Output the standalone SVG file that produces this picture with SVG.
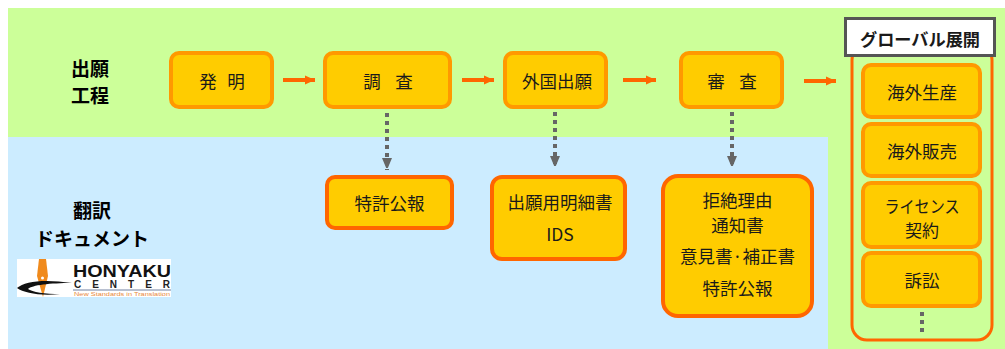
<svg xmlns="http://www.w3.org/2000/svg" width="1005" height="349" viewBox="0 0 1005 349">
<defs>
<style>
.jp{font-family:"Noto Sans CJK JP","Noto Sans",sans-serif;fill:#1a1a1a;text-anchor:middle;dominant-baseline:central}
.t{font-size:17.5px}
.b{font-weight:bold;font-size:19px;fill:#000}
.top{fill:#FFCC00;stroke:#FF9900;stroke-width:4}
.bot{fill:#FFCC00;stroke:#FF6600;stroke-width:4}
.side{fill:#FFCC00;stroke:#FF9900;stroke-width:4}
.flow{stroke:#FF6600;stroke-width:4;fill:none}
.dot{stroke:#666;stroke-width:4;stroke-dasharray:4 4;fill:none}
</style>
<marker id="ah" markerWidth="10" markerHeight="10" refX="10" refY="5" orient="auto" markerUnits="userSpaceOnUse">
<path d="M0,0.5 L10,5 L0,9.5 Z" fill="#FF6600"/>
</marker>
<marker id="dh" markerWidth="10" markerHeight="13" refX="12" refY="5" orient="auto" markerUnits="userSpaceOnUse">
<path d="M0,0 L12,5 L0,10 Z" fill="#666"/>
</marker>
</defs>
<rect x="0" y="0" width="1005" height="349" fill="#fff"/>
<rect x="8" y="8" width="997" height="341" fill="#CCFF99"/>
<rect x="8" y="137" width="820" height="212" fill="#CCECFF"/>

<g id="labels">
<text class="jp b" x="90" y="67">出願</text>
<text class="jp b" x="90" y="94">工程</text>
<text class="jp b" x="92" y="209">翻訳</text>
<text class="jp b" x="92" y="237">ドキュメント</text>
</g>

<g id="logo">
<rect x="17" y="259" width="154" height="38" fill="#fff"/>
<path d="M39,259 L46,259 L48,276 L43,297 L37,276 Z" fill="#F08A1C"/>
<circle cx="42.5" cy="278" r="1.5" fill="#fff"/>
<path d="M17,288 C25,281 45,279 72,283 C50,283 32,285 28,289 C32,292 45,294 60,294 C40,296 24,293 17,288 Z" fill="#111"/>
<text x="73" y="277" font-family="Liberation Sans,Arial,sans-serif" font-weight="bold" font-size="16" textLength="98" lengthAdjust="spacingAndGlyphs" fill="#111">HONYAKU</text>
<text x="74" y="288" font-family="Liberation Sans,Arial,sans-serif" font-weight="bold" font-size="10" textLength="96" fill="#222">CENTER</text>
<line x1="73" y1="290" x2="171" y2="290" stroke="#7080A0" stroke-width="1"/>
<text x="74" y="296" font-family="Liberation Sans,Arial,sans-serif" font-size="5.5" textLength="96" lengthAdjust="spacingAndGlyphs" fill="#E8893A">New Standards in Translation</text>
</g>

<g id="connectors">
<line class="flow" x1="283" y1="80" x2="315" y2="80" marker-end="url(#ah)"/>
<line class="flow" x1="462" y1="80" x2="494" y2="80" marker-end="url(#ah)"/>
<line class="flow" x1="623" y1="80" x2="656" y2="80" marker-end="url(#ah)"/>
<line class="flow" x1="804" y1="81" x2="836" y2="81" marker-end="url(#ah)"/>
<line class="dot" x1="387" y1="113" x2="387" y2="170" marker-end="url(#dh)"/>
<line class="dot" x1="555" y1="112" x2="555" y2="168" marker-end="url(#dh)"/>
<line class="dot" x1="732" y1="112" x2="732" y2="168" marker-end="url(#dh)"/>
</g>

<g id="n-hatsumei">
<rect class="top" x="171" y="53" width="101" height="54" rx="8"/>
<text class="jp t" x="221.5" y="80"><tspan x="208">発</tspan><tspan x="236">明</tspan></text>
</g>
<g id="n-chousa">
<rect class="top" x="325" y="53" width="125" height="54" rx="8"/>
<text class="jp t" x="387.5" y="80"><tspan x="372">調</tspan><tspan x="404">査</tspan></text>
</g>
<g id="n-gaikoku">
<rect class="top" x="505" y="53" width="101" height="54" rx="8"/>
<text class="jp t" x="557" y="80">外国出願</text>
</g>
<g id="n-shinsa">
<rect class="top" x="681" y="53" width="101" height="54" rx="8"/>
<text class="jp t" x="731.5" y="80"><tspan x="716">審</tspan><tspan x="748">査</tspan></text>
</g>

<g id="n-koho">
<rect class="bot" x="327" y="177" width="125" height="51" rx="8"/>
<text class="jp t" x="389.5" y="202">特許公報</text>
</g>
<g id="n-meisai">
<rect class="bot" x="492" y="177" width="133" height="82" rx="10"/>
<text class="jp t" x="560" y="201">出願用明細書</text>
<text class="jp t" x="560" y="233">IDS</text>
</g>
<g id="n-kyozetsu">
<rect class="bot" x="663" y="176" width="149" height="140" rx="15"/>
<text class="jp t" x="737.5" y="199">拒絶理由</text>
<text class="jp t" x="737.5" y="224">通知書</text>
<text class="jp t" x="737.5" y="255">意見書·補正書</text>
<text class="jp t" x="737.5" y="287">特許公報</text>
</g>

<g id="n-global">
<rect x="852" y="45" width="140" height="295" rx="15" fill="none" stroke="#FF6600" stroke-width="3"/>
<rect x="845.5" y="18.5" width="149" height="37" fill="#fff" stroke="#555" stroke-width="3"/>
<text class="jp" x="920" y="38" font-size="17" font-weight="bold" textLength="120" lengthAdjust="spacingAndGlyphs" fill="#000">グローバル展開</text>
<line x1="922" y1="312" x2="922" y2="334" stroke="#666" stroke-width="4" stroke-dasharray="4 4"/>
</g>
<g id="n-seisan">
<rect class="side" x="863" y="65" width="117" height="52" rx="8"/>
<text class="jp t" x="922" y="91">海外生産</text>
</g>
<g id="n-hanbai">
<rect class="side" x="863" y="124" width="117" height="52" rx="8"/>
<text class="jp t" x="922" y="150">海外販売</text>
</g>
<g id="n-license">
<rect class="side" x="863" y="183" width="117" height="64" rx="8"/>
<text class="jp" x="922" y="205" font-size="17" textLength="75" lengthAdjust="spacingAndGlyphs">ライセンス</text>
<text class="jp" x="922" y="229" font-size="17">契約</text>
</g>
<g id="n-sosho">
<rect class="side" x="863" y="253" width="117" height="53" rx="8"/>
<text class="jp t" x="922" y="279">訴訟</text>
</g>
</svg>
